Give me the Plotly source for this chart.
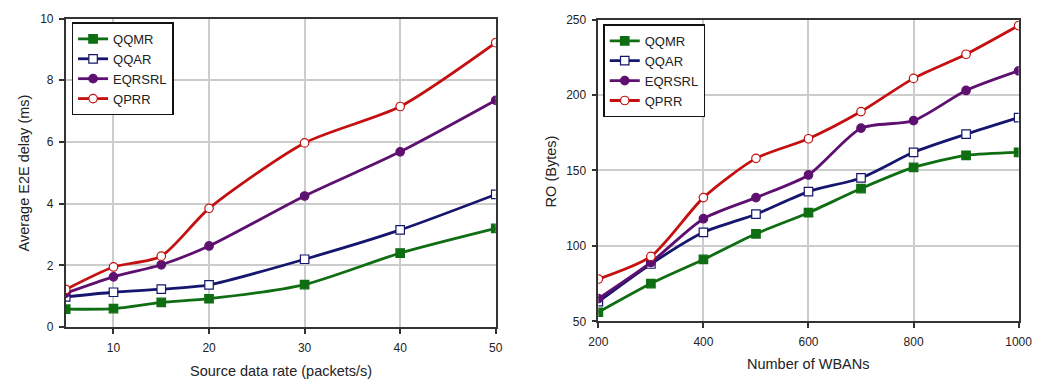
import plotly.graph_objects as go

# Left chart data
rate = [5, 10, 15, 20, 30, 40, 50]
delay_qqmr = [0.58, 0.60, 0.80, 0.92, 1.38, 2.40, 3.20]
delay_qqar = [0.98, 1.13, 1.23, 1.37, 2.20, 3.15, 4.30]
delay_eqrsrl = [1.10, 1.63, 2.02, 2.63, 4.25, 5.68, 7.35]
delay_qprr = [1.22, 1.95, 2.30, 3.85, 5.97, 7.15, 9.22]

# Right chart data
wbans = [200, 300, 400, 500, 600, 700, 800, 900, 1000]
ro_qqmr = [56, 75, 91, 108, 122, 138, 152, 160, 162]
ro_qqar = [63, 88, 109, 121, 136, 145, 162, 174, 185]
ro_eqrsrl = [65, 89, 118, 132, 147, 178, 183, 203, 216]
ro_qprr = [78, 93, 132, 158, 171, 189, 211, 227, 246]

names = ["QQMR", "QQAR", "EQRSRL", "QPRR"]
colors = ["#0f6e12", "#16166e", "#5e1070", "#c41010"]
symbols = ["square", "square", "circle", "circle"]
fills = ["#0f6e12", "white", "#5e1070", "white"]

W, H = 1059, 391
def px_x(p): return p / W
def px_y(p): return 1 - p / H

fig = go.Figure()
left = [delay_qqmr, delay_qqar, delay_eqrsrl, delay_qprr]
right = [ro_qqmr, ro_qqar, ro_eqrsrl, ro_qprr]
for i in range(4):
    fig.add_trace(go.Scatter(
        x=rate, y=left[i], name=names[i], mode="lines+markers",
        line=dict(color=colors[i], width=2.8, shape="spline", smoothing=0.7),
        marker=dict(symbol=symbols[i], size=8.5, color=fills[i],
                    line=dict(color=colors[i], width=1.2)),
        xaxis="x", yaxis="y", legend="legend"))
for i in range(4):
    fig.add_trace(go.Scatter(
        x=wbans, y=right[i], name=names[i], mode="lines+markers",
        line=dict(color=colors[i], width=2.8, shape="spline", smoothing=0.7),
        marker=dict(symbol=symbols[i], size=8.5, color=fills[i],
                    line=dict(color=colors[i], width=1.2)),
        xaxis="x2", yaxis="y2", legend="legend2"))

FAM = "Liberation Sans, Arial, sans-serif"
font = dict(family=FAM, size=12, color="#222")
axis_common = dict(showgrid=True, gridcolor="#cccccc", gridwidth=1.5,
                   zeroline=False, showline=True, linecolor="#333", linewidth=1.5,
                   mirror=True, ticks="outside", ticklen=5, tickwidth=1.5,
                   tickcolor="#333", tickfont=font)
xaxis_extra = dict(ticklabelstandoff=4)
yaxis_extra = dict(ticklabelstandoff=3)

legend_common = dict(bordercolor="#111", borderwidth=1.5, bgcolor="white",
                     font=dict(family=FAM, size=13, color="#222"),
                     xanchor="left", yanchor="top", tracegroupgap=0, itemwidth=30)

title_font = dict(size=14.5, family=FAM, color="#222")
ann = dict(xref="paper", yref="paper", showarrow=False, font=title_font,
           xanchor="center", yanchor="middle")

fig.update_layout(
    width=W, height=H, margin=dict(l=0, r=0, t=0, b=0),
    plot_bgcolor="white", paper_bgcolor="white", font=font,
    xaxis=dict(domain=[px_x(57), px_x(497)], range=[5, 50],
               tickvals=[10, 20, 30, 40, 50], anchor="y", **axis_common, **xaxis_extra),
    yaxis=dict(domain=[px_y(332), px_y(12)], range=[0, 10], dtick=2,
               anchor="x", **axis_common, **yaxis_extra),
    xaxis2=dict(domain=[px_x(602), px_x(1032)], range=[200, 1000], dtick=200,
                anchor="y2", **axis_common, **xaxis_extra),
    yaxis2=dict(domain=[px_y(326), px_y(13)], range=[50, 250], dtick=50,
                anchor="x2", **axis_common, **yaxis_extra),
    legend=dict(x=px_x(63), y=px_y(16), **legend_common),
    legend2=dict(x=px_x(607), y=px_y(18), **legend_common),
    showlegend=True,
    annotations=[
        dict(text="Source data rate (packets/s)", x=px_x(277), y=px_y(377), **ann),
        dict(text="Average E2E delay (ms)", x=px_x(14), y=px_y(172), textangle=-90, **ann),
        dict(text="Number of WBANs", x=px_x(817), y=px_y(370), **ann),
        dict(text="RO (Bytes)", x=px_x(553), y=px_y(170), textangle=-90, **ann),
    ],
)

fig.write_html("out.html")
